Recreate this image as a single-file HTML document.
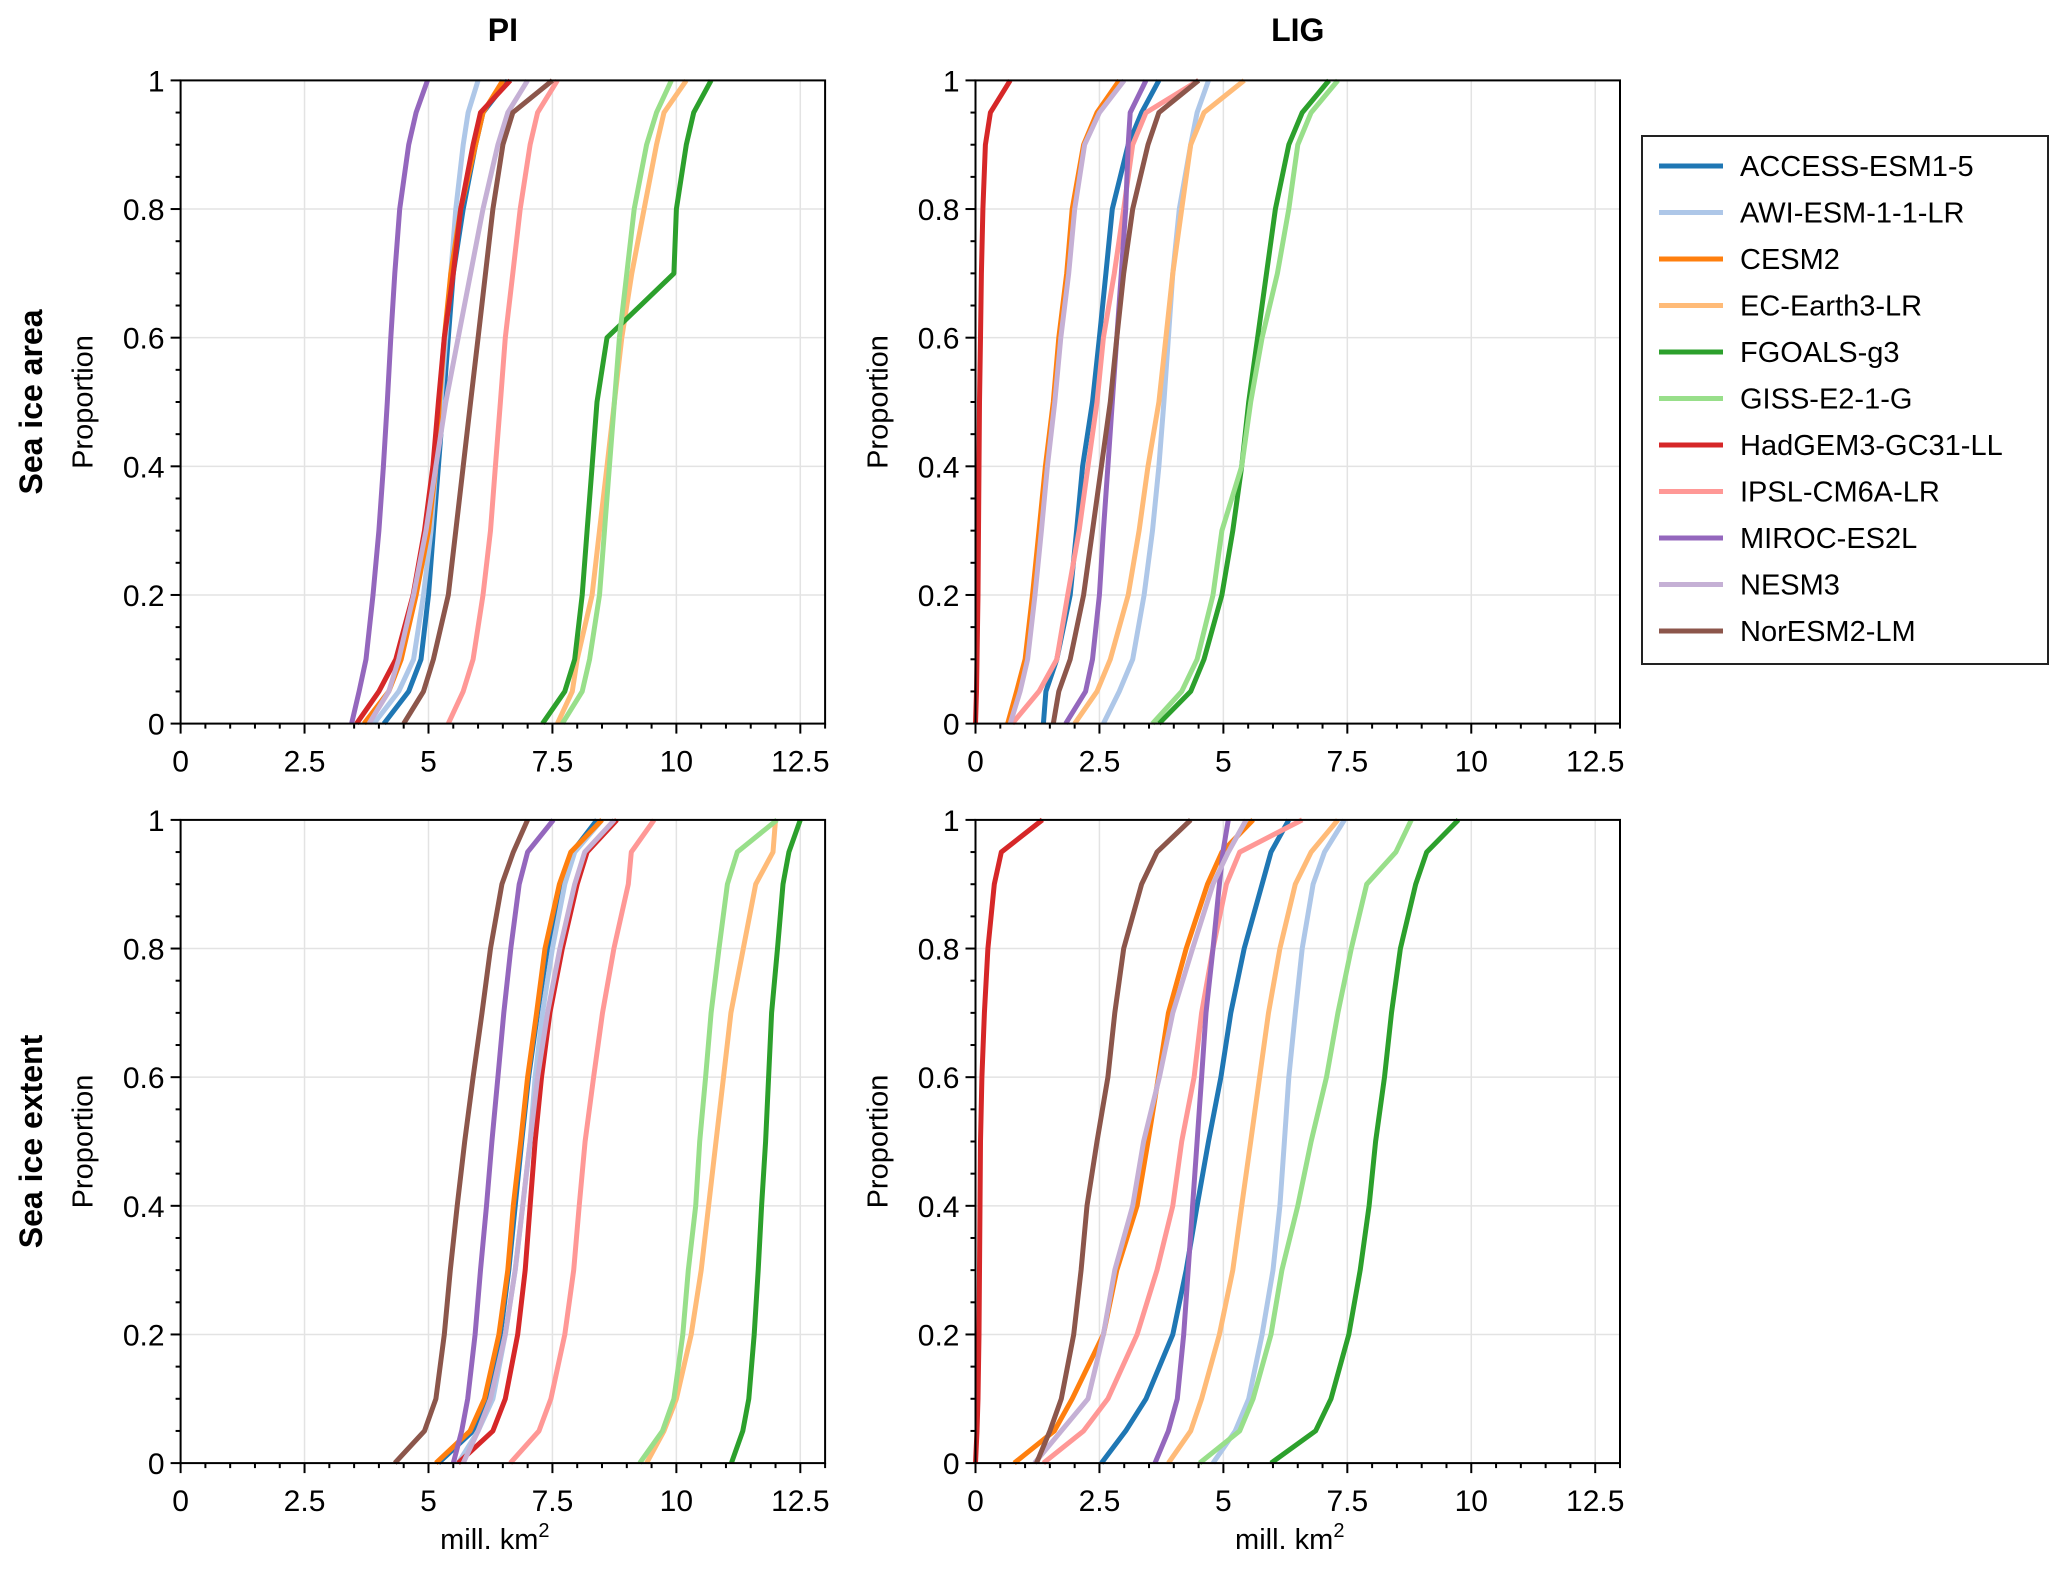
<!DOCTYPE html>
<html><head><meta charset="utf-8"><style>
body{margin:0;background:#fff;}
svg{display:block;font-family:"Liberation Sans",sans-serif;}
</style></head><body>
<svg id="fig" width="2067" height="1570" viewBox="0 0 2067 1570"></svg>
<script>
const models=["ACCESS-ESM1-5","AWI-ESM-1-1-LR","CESM2","EC-Earth3-LR","FGOALS-g3","GISS-E2-1-G","HadGEM3-GC31-LL","IPSL-CM6A-LR","MIROC-ES2L","NESM3","NorESM2-LM"];
const colors=["#1f77b4","#aec7e8","#ff7f0e","#ffbb78","#2ca02c","#98df8a","#d62728","#ff9896","#9467bd","#c5b0d5","#8c564b"];
const probs=[0,0.05,0.1,0.2,0.3,0.4,0.5,0.6,0.7,0.8,0.9,0.95,1];
const xTicks=[0,2.5,5,7.5,10,12.5];
const xTickLabels=["0","2.5","5","7.5","10","12.5"];
const yTicks=[0,0.2,0.4,0.6,0.8,1];
const yTickLabels=["0","0.2","0.4","0.6","0.8","1"];
const piArea=[
[4.1,4.6,4.85,5.0,5.1,5.2,5.3,5.4,5.5,5.7,5.95,6.1,6.6],
[3.9,4.4,4.7,4.9,5.05,5.15,5.25,5.35,5.45,5.55,5.7,5.8,6.0],
[3.7,4.2,4.45,4.75,5.0,5.15,5.22,5.32,5.45,5.65,5.95,6.1,6.5],
[7.6,7.9,8.0,8.3,8.45,8.6,8.75,8.9,9.1,9.35,9.6,9.75,10.2],
[7.3,7.75,7.95,8.1,8.2,8.3,8.4,8.6,9.95,10.0,10.2,10.35,10.7],
[7.7,8.1,8.25,8.45,8.55,8.65,8.75,8.85,9.0,9.15,9.4,9.6,9.9],
[3.55,4.0,4.34,4.69,4.92,5.09,5.2,5.32,5.5,5.65,5.9,6.05,6.65],
[5.4,5.7,5.9,6.1,6.25,6.35,6.45,6.55,6.7,6.85,7.05,7.2,7.6],
[3.45,3.6,3.74,3.88,4.0,4.09,4.17,4.24,4.32,4.42,4.6,4.75,4.98],
[3.8,4.2,4.4,4.7,4.95,5.15,5.35,5.6,5.85,6.1,6.4,6.6,7.0],
[4.5,4.9,5.1,5.4,5.55,5.7,5.85,6.0,6.15,6.3,6.5,6.7,7.5]];
const ligArea=[
[1.37,1.42,1.64,1.91,2.04,2.16,2.36,2.5,2.63,2.76,3.08,3.35,3.7],
[2.58,2.9,3.17,3.4,3.57,3.7,3.8,3.89,3.98,4.11,4.34,4.47,4.7],
[0.65,0.83,1.0,1.15,1.28,1.41,1.57,1.68,1.84,1.95,2.18,2.45,2.9],
[2.0,2.45,2.72,3.08,3.3,3.48,3.7,3.84,3.98,4.16,4.34,4.61,5.42],
[3.7,4.34,4.61,4.97,5.19,5.37,5.51,5.69,5.87,6.05,6.32,6.59,7.13],
[3.57,4.16,4.47,4.79,4.97,5.37,5.55,5.78,6.09,6.32,6.5,6.77,7.31],
[0,0.02,0.03,0.05,0.06,0.07,0.08,0.1,0.12,0.15,0.2,0.3,0.7],
[0.74,1.28,1.64,1.86,2.09,2.27,2.45,2.58,2.8,2.99,3.17,3.44,4.5],
[1.82,2.22,2.36,2.5,2.58,2.67,2.76,2.85,2.94,3.03,3.08,3.12,3.44],
[0.7,0.9,1.05,1.2,1.33,1.45,1.6,1.72,1.88,2.0,2.2,2.5,3.0],
[1.57,1.68,1.91,2.18,2.36,2.54,2.72,2.85,2.99,3.17,3.48,3.7,4.5]];
const piExtent=[
[5.2,5.9,6.2,6.45,6.62,6.75,6.88,7.02,7.2,7.4,7.7,7.9,8.4],
[5.6,6.0,6.3,6.55,6.75,6.9,7.05,7.15,7.3,7.5,7.75,7.95,8.5],
[5.15,5.84,6.13,6.42,6.6,6.71,6.86,7.0,7.18,7.35,7.64,7.87,8.5],
[9.4,9.75,10.0,10.3,10.5,10.65,10.8,10.95,11.1,11.35,11.6,11.95,12.0],
[11.11,11.34,11.46,11.57,11.65,11.72,11.8,11.86,11.92,12.04,12.15,12.27,12.5],
[9.26,9.72,9.95,10.13,10.24,10.39,10.47,10.59,10.7,10.86,11.03,11.23,12.03],
[5.6,6.3,6.55,6.8,6.95,7.05,7.15,7.28,7.45,7.7,8.0,8.2,8.8],
[6.65,7.23,7.47,7.75,7.93,8.04,8.16,8.33,8.51,8.74,9.03,9.09,9.55],
[5.5,5.67,5.79,5.94,6.05,6.17,6.28,6.4,6.52,6.66,6.83,7.0,7.52],
[5.7,6.0,6.25,6.55,6.75,6.9,7.05,7.2,7.4,7.65,7.95,8.15,8.75],
[4.32,4.92,5.15,5.32,5.44,5.58,5.73,5.9,6.08,6.25,6.48,6.71,7.0]];
const ligExtent=[
[2.54,3.03,3.44,3.98,4.25,4.47,4.7,4.95,5.15,5.42,5.78,5.96,6.32],
[4.79,5.24,5.51,5.78,6.0,6.14,6.23,6.32,6.45,6.59,6.81,7.04,7.44],
[0.78,1.59,1.95,2.58,2.85,3.26,3.48,3.69,3.89,4.25,4.68,4.97,5.6],
[3.89,4.34,4.56,4.92,5.19,5.37,5.55,5.73,5.91,6.14,6.45,6.77,7.31],
[5.96,6.86,7.17,7.53,7.76,7.94,8.07,8.25,8.39,8.57,8.88,9.1,9.74],
[4.52,5.33,5.6,5.96,6.18,6.5,6.77,7.08,7.31,7.58,7.89,8.48,8.79],
[0,0.03,0.05,0.07,0.08,0.09,0.1,0.13,0.18,0.25,0.38,0.52,1.35],
[1.37,2.18,2.67,3.26,3.66,3.98,4.16,4.41,4.56,4.79,5.06,5.33,6.59],
[3.62,3.89,4.07,4.2,4.29,4.38,4.47,4.56,4.65,4.79,4.92,4.99,5.1],
[1.19,1.73,2.27,2.58,2.81,3.17,3.39,3.71,3.98,4.38,4.79,5.1,5.46],
[1.23,1.5,1.73,1.98,2.13,2.25,2.45,2.67,2.81,2.99,3.35,3.66,4.34]];

const NS="http://www.w3.org/2000/svg";
const svg=document.getElementById("fig");
function mk(tag,attrs,parent){const e=document.createElementNS(NS,tag);for(const k in attrs)e.setAttribute(k,attrs[k]);(parent||svg).appendChild(e);return e;}
function txt(s,attrs,parent){const e=mk("text",attrs,parent);e.textContent=s;return e;}

const L=[180.6,975.5], T=[80.4,819.9], W=644.5, H=643.2, XMAX=13;
const panels=[[piArea,0,0,"pi-area"],[ligArea,1,0,"lig-area"],[piExtent,0,1,"pi-extent"],[ligExtent,1,1,"lig-extent"]];
panels.forEach(([data,c,r,nm])=>{
  const x0=L[c], y0=T[r];
  const sx=v=>x0+v/XMAX*W, sy=p=>y0+H-p*H;
  const g=mk("g",{});
  
  
  xTicks.forEach(t=>mk("line",{x1:sx(t),x2:sx(t),y1:y0,y2:y0+H,stroke:"#e3e3e3","stroke-width":1.5},g));
  yTicks.forEach(t=>mk("line",{x1:x0,x2:x0+W,y1:sy(t),y2:sy(t),stroke:"#e3e3e3","stroke-width":1.5},g));
  data.forEach((xs,i)=>{
    const pts=xs.map((v,j)=>sx(v).toFixed(1)+","+sy(probs[j]).toFixed(1)).join(" ");
    const pl=mk("polyline",{points:pts,fill:"none",stroke:colors[i],"stroke-width":5,"stroke-linejoin":"round"},g);
    
    
  });
  mk("rect",{x:x0,y:y0,width:W,height:H,fill:"none",stroke:"#000","stroke-width":2},g);
  for(let v=0;v<=XMAX+0.001;v+=0.5){const maj=Math.abs(v/2.5-Math.round(v/2.5))<1e-6;
    mk("line",{x1:sx(v),x2:sx(v),y1:y0+H,y2:y0+H+(maj?10:5),stroke:"#000","stroke-width":2},g);}
  for(let k=0;k<=20;k++){const v=k*0.05;const maj=k%4===0;
    mk("line",{x1:x0,x2:x0-(maj?10:5),y1:sy(v),y2:sy(v),stroke:"#000","stroke-width":2},g);}
  xTicks.forEach((t,i)=>{const e=txt(xTickLabels[i],{x:sx(t),y:y0+H+48,"font-size":30,"text-anchor":"middle"},g);
    });
  yTicks.forEach((t,i)=>{const e=txt(yTickLabels[i],{x:x0-16,y:sy(t)+11,"font-size":30,"text-anchor":"end"},g);
    });
  const yl=txt("Proportion",{x:0,y:0,"font-size":29,"text-anchor":"middle",transform:`translate(${x0-88},${y0+H/2}) rotate(-90)`},g);
  
  if(r===1){const xl=txt("mill. km",{x:x0+W/2-8,y:1549,"font-size":29,"text-anchor":"middle"},g);
    const sup=mk("tspan",{dy:-12,"font-size":20},xl);sup.textContent="2";
    }
});
const t1=txt("PI",{x:L[0]+W/2,y:41,"font-size":32,"font-weight":"bold","text-anchor":"middle"});

const t2=txt("LIG",{x:L[1]+W/2,y:41,"font-size":32,"font-weight":"bold","text-anchor":"middle"});

const r1=txt("Sea ice area",{x:0,y:0,"font-size":32,"font-weight":"bold","text-anchor":"middle",transform:`translate(42,${T[0]+H/2}) rotate(-90)`});

const r2=txt("Sea ice extent",{x:0,y:0,"font-size":32,"font-weight":"bold","text-anchor":"middle",transform:`translate(42,${T[1]+H/2}) rotate(-90)`});


const lg=mk("g",{});


mk("rect",{x:1642,y:136,width:406,height:528,fill:"#fff",stroke:"#222","stroke-width":2},lg);
models.forEach((m,i)=>{
  const y=166+i*46.5;
  const ent=mk("g",{},lg);
  
  
  mk("line",{x1:1659,x2:1723,y1:y,y2:y,stroke:colors[i],"stroke-width":5},ent);
  txt(m,{x:1740,y:y+10,"font-size":29},ent);
});
</script>
</body></html>
